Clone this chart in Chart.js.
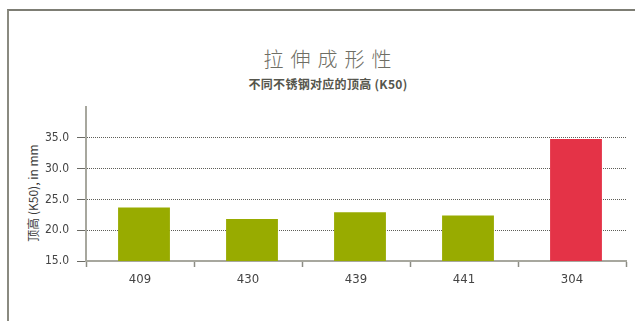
<!DOCTYPE html>
<html>
<head>
<meta charset="utf-8">
<script src="https://cdn.jsdelivr.net/npm/chart.js@4"></script>
<style>
  body { margin: 0; background: #fff; }
  #wrap { position: relative; width: 635px; height: 321px; overflow: hidden; }
  #frame { position: absolute; left: 7px; top: 9px; right: -4px; bottom: -4px;
           border-top: 2px solid #7d7d74; border-left: 2px solid #8a8a80; }
  #title { position: absolute; left: 0; width: 662px; top: 44px; text-align: center;
           font: 300 20px "Noto Sans CJK SC", sans-serif; letter-spacing: 7px; color: #6e6e64; }
  #subtitle { position: absolute; left: 0; width: 656px; top: 75px; text-align: center;
              font: bold 12px "Noto Sans CJK SC", sans-serif; color: #55554c; letter-spacing: 0.3px; }
  #ytitle { position: absolute; left: 32px; top: 193px; white-space: nowrap;
            transform: translate(-50%, -50%) rotate(-90deg);
            font: 12px "Liberation Sans Narrow", "Noto Sans CJK SC", sans-serif; color: #3a3a3a; }
  canvas { position: absolute; left: 0; top: 0; }
</style>
</head>
<body>
<div id="wrap">
  <div id="frame"></div>
  <div id="title">拉伸成形性</div>
  <div id="subtitle">不同不锈钢对应的顶高 (K50)</div>
  <div id="ytitle">顶高 (K50), in mm</div>
  <canvas id="chart" width="635" height="321"></canvas>
</div>
<script>
// 钢种与对应顶高 (mm)
const grades = ['409', '430', '439', '441', '304'];
const heights = [23.7, 21.8, 22.9, 22.4, 34.8];
const barColors = ['#98ab00', '#98ab00', '#98ab00', '#98ab00', '#e43347'];

const yMin = 15;
const yMax = 40;
const yStep = 5;

const narrow = '"Liberation Sans Narrow", "DejaVu Sans Condensed", sans-serif';
const hidden = 'rgba(0,0,0,0)';

new Chart(document.getElementById('chart'), {
  type: 'bar',
  data: {
    labels: grades,
    datasets: [{
      data: heights,
      backgroundColor: barColors,
      borderWidth: 0,
      barPercentage: 0.48,
      categoryPercentage: 1
    }]
  },
  options: {
    responsive: false,
    animation: false,
    layout: { padding: { top: 107, right: 9, bottom: 0, left: 0 } },
    plugins: {
      legend: { display: false },
      tooltip: { enabled: false }
    },
    scales: {
      x: {
        afterFit: s => { s.height = 60; },
        border: { color: '#a7a79e', width: 2 },
        grid: {
          offset: true,
          drawOnChartArea: false,
          tickLength: 6,
          tickColor: '#8c8c84',
          tickWidth: 1.5
        },
        ticks: { color: '#444', padding: 5, font: { family: narrow, size: 13 } }
      },
      y: {
        min: yMin,
        max: yMax,
        afterFit: s => { s.width = 86; },
        border: { color: '#a7a79e', width: 2, dash: [1, 1] },
        grid: {
          color: c => c.tick && c.tick.value === yMax ? hidden : '#5e5e58',
          tickColor: c => c.tick && c.tick.value === yMax ? hidden : '#6a6a64',
          tickLength: 9,
          lineWidth: 1
        },
        ticks: {
          stepSize: yStep,
          padding: 8,
          color: '#444',
          font: { family: narrow, size: 12 },
          callback: v => v === yMax ? '' : v.toFixed(1)
        }
      }
    }
  },
  plugins: [{
    // 柱子整体略向右偏
    id: 'barShift',
    beforeDatasetsDraw(chart) {
      chart.ctx.save();
      chart.ctx.translate(4, 0);
    },
    afterDatasetsDraw(chart) {
      chart.ctx.restore();
    }
  }]
});
</script>
</body>
</html>
